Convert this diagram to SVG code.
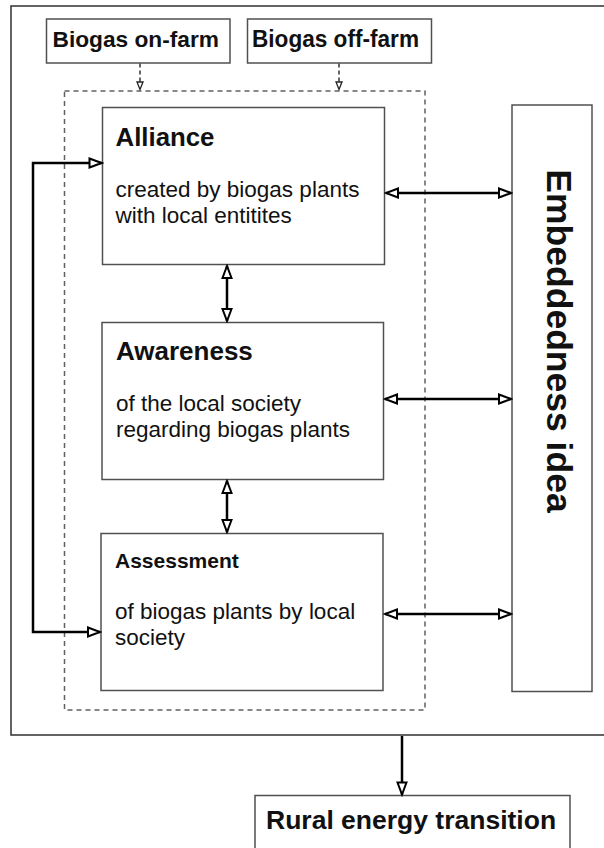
<svg xmlns="http://www.w3.org/2000/svg" width="604" height="848" viewBox="0 0 604 848">
<style>
  .box{fill:#fff;stroke:#505050;stroke-width:1.5}
  .frame{fill:none;stroke:#303030;stroke-width:1.5}
  .dash{fill:none;stroke:#606060;stroke-width:1.5;stroke-dasharray:5,4}
  .conn{fill:none;stroke:#000;stroke-width:2.5}
  .dconn{fill:none;stroke:#333;stroke-width:1.5;stroke-dasharray:4,3}
  text{font-family:"Liberation Sans",Arial,Helvetica,sans-serif;fill:#111}
  .t{font-weight:bold}
  .b{font-size:22.5px}
</style>
<defs>
  <marker id="ah" markerUnits="userSpaceOnUse" markerWidth="16" markerHeight="12" refX="14" refY="6" orient="auto-start-reverse">
    <path d="M2,1.5 L14,6 L2,10.5 Z" fill="#fff" stroke="#000" stroke-width="2"/>
  </marker>
  <marker id="sh" markerUnits="userSpaceOnUse" markerWidth="10" markerHeight="8" refX="8.5" refY="4" orient="auto">
    <path d="M1,1 L8.5,4 L1,7 Z" fill="#fff" stroke="#222" stroke-width="1.3"/>
  </marker>
</defs>

<path class="frame" d="M605,6 H11 V735 H605"/>
<rect class="dash" x="64.5" y="91" width="360.5" height="619"/>

<g id="biogas-on-farm">
  <rect class="box" x="46.5" y="19" width="183.5" height="44"/>
  <text class="t" x="52.5" y="47" font-size="22.7" textLength="166.5" lengthAdjust="spacingAndGlyphs">Biogas on-farm</text>
</g>
<g id="biogas-off-farm">
  <rect class="box" x="247.5" y="19" width="184" height="44"/>
  <text class="t" x="252" y="47" font-size="23.5" textLength="167" lengthAdjust="spacingAndGlyphs">Biogas off-farm</text>
</g>

<g id="alliance">
  <rect class="box" x="102.5" y="107.5" width="282" height="157"/>
  <text class="t" x="115.5" y="146" font-size="25.8">Alliance</text>
  <text class="b" x="115.5" y="197">created by biogas plants</text>
  <text class="b" x="115.5" y="223">with local entitites</text>
</g>

<g id="awareness">
  <rect class="box" x="102" y="322.5" width="281.5" height="157"/>
  <text class="t" x="116" y="360" font-size="26">Awareness</text>
  <text class="b" x="116" y="411">of the local society</text>
  <text class="b" x="116" y="437">regarding biogas plants</text>
</g>

<g id="assessment">
  <rect class="box" x="101" y="533.5" width="282" height="157"/>
  <text class="t" x="115" y="568" font-size="21">Assessment</text>
  <text class="b" x="115" y="619">of biogas plants by local</text>
  <text class="b" x="115" y="645">society</text>
</g>

<g id="embeddedness-idea">
  <rect class="box" x="512" y="105" width="80" height="586.5"/>
  <text class="t" transform="translate(547,341) rotate(90)" text-anchor="middle" font-size="35.5">Embeddedness idea</text>
</g>

<g id="rural-energy-transition">
  <rect class="box" x="255" y="795.5" width="315" height="60"/>
  <text class="t" x="266" y="829" font-size="26.5">Rural energy transition</text>
</g>

<g id="connectors">
  <path class="dconn" d="M140,63.5 V89.5" marker-end="url(#sh)"/>
  <path class="dconn" d="M339,63.5 V89.5" marker-end="url(#sh)"/>
  <path class="conn" d="M101.5,163 H33 V632 H100" marker-start="url(#ah)" marker-end="url(#ah)"/>
  <path class="conn" d="M386,193 H511" marker-start="url(#ah)" marker-end="url(#ah)"/>
  <path class="conn" d="M385,399 H511" marker-start="url(#ah)" marker-end="url(#ah)"/>
  <path class="conn" d="M385,614 H511" marker-start="url(#ah)" marker-end="url(#ah)"/>
  <path class="conn" d="M227,266 V321" marker-start="url(#ah)" marker-end="url(#ah)"/>
  <path class="conn" d="M227,481 V532" marker-start="url(#ah)" marker-end="url(#ah)"/>
  <path class="conn" d="M402,736 V794.5" marker-end="url(#ah)"/>
</g>
</svg>
